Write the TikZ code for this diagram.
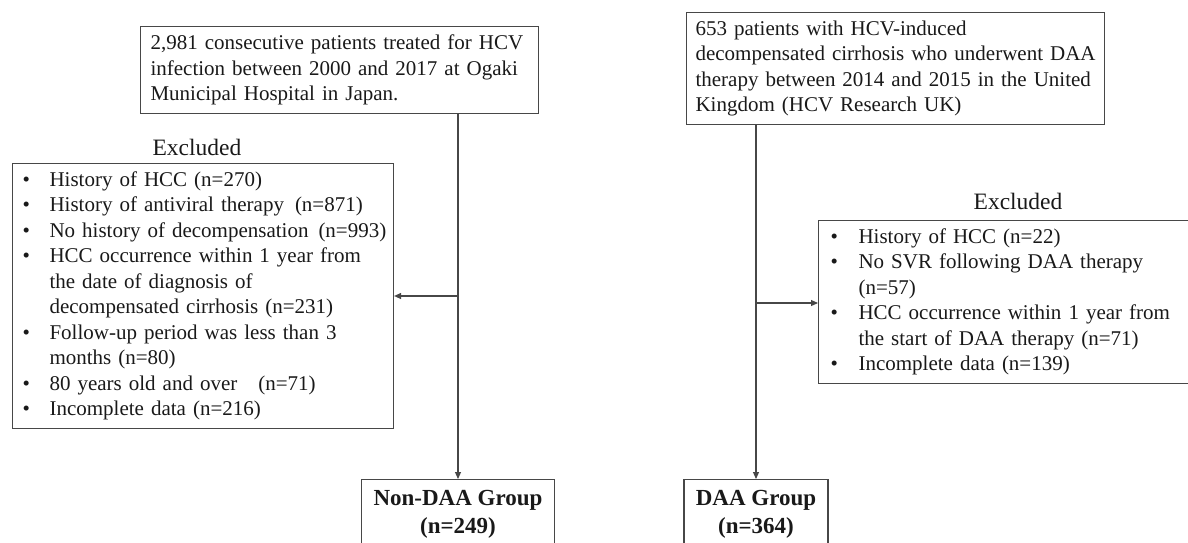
\documentclass[tikz,border=0pt]{standalone}
\usepackage{fontspec}
\setmainfont{Liberation Serif}
\usetikzlibrary{arrows.meta}
\begin{document}
\begin{tikzpicture}[x=1pt,y=-1pt,
  ln/.style={draw=black!72, line width=1.1pt},
  arr/.style={ln, -{Triangle[length=7pt,width=6pt]}},
  box/.style={ln, inner ysep=0pt, anchor=north west, align=left,
    font=\fontsize{21}{25.5}\selectfont, text=black!90},
  gbox/.style={ln, inner sep=0pt, anchor=north, align=center,
    font=\fontsize{23}{28}\selectfont\bfseries, text=black!90},
  exlab/.style={font=\fontsize{23.5}{28}\selectfont, text=black!90, inner sep=0pt}]
\useasboundingbox (0,0) rectangle (1188,542);

% top boxes
\node[box, inner xsep=10pt, text width=378pt, minimum height=87pt] (top1) at (140,26)
  {\begin{tabular}{@{}l@{}}
   2,981 consecutive patients treated for HCV\\
   infection between 2000 and 2017 at Ogaki\\
   Municipal Hospital in Japan.
   \end{tabular}};
\node[box, inner xsep=9pt, text width=400pt, minimum height=112pt] (top2) at (686,12)
  {\begin{tabular}{@{}l@{}}
   653 patients with HCV-induced\\
   decompensated cirrhosis who underwent DAA\\
   therapy between 2014 and 2015 in the United\\
   Kingdom (HCV Research UK)
   \end{tabular}};

% excluded labels
\node[exlab] (lab1) at (197,147) {Excluded};
\node[exlab] (lab2) at (1018,201) {Excluded};

% excluded boxes
\node[box, inner xsep=10pt, text width=361pt, minimum height=265pt] (ex1) at (12,163)
  {\begin{tabular}{@{}p{27pt}@{}l@{}}
   \textbullet & History of HCC (n=270)\\
   \textbullet & History of antiviral therapy\hspace{4pt} (n=871)\\
   \textbullet & No history of decompensation\hspace{3pt} (n=993)\\
   \textbullet & HCC occurrence within 1 year from\\
               & the date of diagnosis of\\
               & decompensated cirrhosis (n=231)\\
   \textbullet & Follow-up period was less than 3\\
               & months (n=80)\\
   \textbullet & 80 years old and over\ \ \ (n=71)\\
   \textbullet & Incomplete data (n=216)
   \end{tabular}};
\node[box, inner xsep=12pt, text width=353pt, minimum height=163pt] (ex2) at (818,220)
  {\begin{tabular}{@{}p{28pt}@{}l@{}}
   \textbullet & History of HCC (n=22)\\
   \textbullet & No SVR following DAA therapy\\
               & (n=57)\\
   \textbullet & HCC occurrence within 1 year from\\
               & the start of DAA therapy (n=71)\\
   \textbullet & Incomplete data (n=139)
   \end{tabular}};

% group boxes
\node[gbox, minimum width=193pt, minimum height=70pt] (g1) at (458,479)
  {Non-DAA Group\\(n=249)};
\node[gbox, minimum width=144pt, minimum height=70pt] (g2) at (756,479)
  {DAA Group\\(n=364)};

% connectors
\draw[arr] (top1.south -| g1.north) -- (g1.north);
\draw[arr] (top2.south -| g2.north) -- (g2.north);
\coordinate (j1) at (458,296);
\coordinate (j2) at (756,303);
\draw[arr] (j1) -- (ex1.east |- j1);
\draw[arr] (j2) -- (ex2.west |- j2);
\end{tikzpicture}
\end{document}
